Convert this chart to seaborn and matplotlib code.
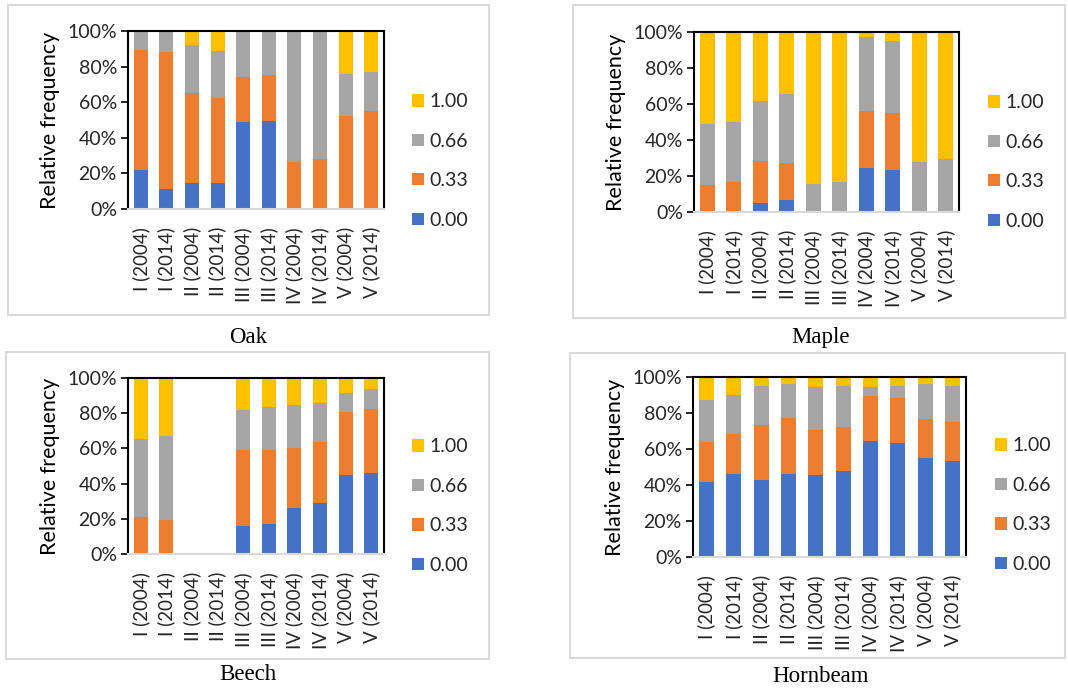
import matplotlib
matplotlib.use("Agg")
import matplotlib.pyplot as plt
from matplotlib.patches import Patch, Rectangle
from matplotlib.ticker import FixedLocator
import numpy as np
import pandas as pd
import seaborn as sns

# Plot sites and survey years
categories = ["I (2004)", "I (2014)", "II (2004)", "II (2014)", "III (2004)",
              "III (2014)", "IV (2004)", "IV (2014)", "V (2004)", "V (2014)"]
levels = ["0.00", "0.33", "0.66", "1.00"]

# Relative frequency (%) per level, for each species
oak_000 = [21.9, 11.2, 14.4, 14.4, 48.7, 49.4, 0, 0, 0, 0]
oak_033 = [67.4, 76.8, 50.6, 48.1, 25.5, 25.7, 26.4, 28.1, 52.4, 54.9]
oak_066 = [10.7, 12.0, 27.3, 26.3, 25.8, 24.9, 73.6, 71.9, 23.3, 21.9]
oak_100 = [0, 0, 7.7, 11.2, 0, 0, 0, 0, 24.3, 23.2]

maple_000 = [0, 0, 5.0, 6.8, 0, 0, 24.2, 23.6, 0, 0]
maple_033 = [14.9, 16.8, 23.4, 20.3, 0, 0, 32.1, 31.4, 0, 0]
maple_066 = [34.0, 33.4, 33.0, 38.6, 15.5, 16.8, 40.7, 40.2, 27.9, 29.7]
maple_100 = [51.1, 49.8, 38.6, 34.3, 84.5, 83.2, 3.0, 4.8, 72.1, 70.3]

beech_000 = [0, 0, 0, 0, 16.1, 17.3, 26.2, 28.7, 44.8, 46.1]
beech_033 = [21.1, 19.2, 0, 0, 43.1, 41.9, 34.3, 35.1, 35.8, 36.3]
beech_066 = [44.4, 47.6, 0, 0, 22.6, 24.5, 23.9, 21.8, 10.7, 11.3]
beech_100 = [34.5, 33.2, 0, 0, 18.2, 16.3, 15.6, 14.4, 8.7, 6.3]

hornbeam_000 = [41.5, 46.2, 42.6, 46.2, 45.6, 48.0, 64.6, 63.3, 55.1, 53.4]
hornbeam_033 = [22.4, 22.0, 30.8, 30.9, 25.0, 24.4, 24.8, 25.0, 21.4, 21.8]
hornbeam_066 = [23.1, 21.9, 21.8, 18.8, 24.0, 22.8, 5.2, 6.9, 19.4, 20.0]
hornbeam_100 = [13.0, 9.9, 4.8, 4.1, 5.4, 4.8, 5.4, 4.8, 4.1, 4.8]

palette = {"0.00": "#4472C4", "0.33": "#ED7D31", "0.66": "#A5A5A5", "1.00": "#FFC000"}

W, H = 1068, 691
sns.set_theme(style="white")
plt.rcParams["font.family"] = ["Lato", "DejaVu Sans"]
fig = plt.figure(figsize=(W / 100, H / 100), dpi=100)


def px_axes(x0, y0, x1, y1):
    return fig.add_axes([x0 / W, 1 - y1 / H, (x1 - x0) / W, (y1 - y0) / H])


panels = [
    # name, data, axes box, frame box, title centre, legend anchor
    ("Oak", [oak_000, oak_033, oak_066, oak_100],
     (128, 31, 384, 209), (8, 5, 489, 315), (248, 337), (412, 161)),
    ("Maple", [maple_000, maple_033, maple_066, maple_100],
     (694, 32, 959, 212), (573, 5, 1065, 318), (821, 337), (988, 162)),
    ("Beech", [beech_000, beech_033, beech_066, beech_100],
     (128, 378, 384, 554), (6, 352, 489, 659), (248, 675), (412, 506)),
    ("Hornbeam", [hornbeam_000, hornbeam_033, hornbeam_066, hornbeam_100],
     (693, 377, 966, 557), (570, 353, 1065, 658), (821, 676), (995, 505)),
]

for name, series, abox, fbox, tpos, lpos in panels:
    # light frame around each chart
    fx0, fy0, fx1, fy1 = fbox
    fig.patches.append(Rectangle((fx0 / W, 1 - fy1 / H), (fx1 - fx0) / W, (fy1 - fy0) / H,
                                 transform=fig.transFigure, fill=False,
                                 edgecolor="#D9D9D9", linewidth=1.5))
    ax = px_axes(*abox)

    df = pd.DataFrame({"site": categories})
    for lev, vals in zip(levels, series):
        df[lev] = vals
    cum = df[levels].cumsum(axis=1)

    # stacked bars: draw cumulative totals from the top level down
    for lev in reversed(levels):
        layer = pd.DataFrame({"site": categories, "value": cum[lev]})
        sns.barplot(data=layer, x="site", y="value", order=categories,
                    color=palette[lev], width=0.55, linewidth=0,
                    saturation=1, errorbar=None, ax=ax)

    ax.set_ylim(0, 100)
    ax.set_xlim(-0.5, len(categories) - 0.5)
    ax.yaxis.set_major_locator(FixedLocator([0, 20, 40, 60, 80, 100]))
    ax.set_yticklabels([f"{v}%" for v in range(0, 101, 20)], fontsize=14, color="#262626")
    ax.set_xticks(range(len(categories)))
    ax.set_xticklabels(categories, rotation=90, fontsize=13.5, color="#262626")
    ax.tick_params(axis="x", length=0, pad=13)
    ax.tick_params(axis="y", length=5, width=1.2, color="black", direction="out", pad=3, left=True)
    ax.set_xlabel("")
    ax.set_ylabel("Relative frequency", fontsize=15.5, color="black", labelpad=5)
    for side in ["left", "top", "right"]:
        ax.spines[side].set_color("black")
        ax.spines[side].set_linewidth(1.5)
        ax.spines[side].set_visible(True)
    ax.spines["bottom"].set_color("#D9D9D9")
    ax.spines["bottom"].set_linewidth(1.5)
    ax.spines["bottom"].set_visible(True)

    handles = [Patch(facecolor=palette[lev], edgecolor="none", label=lev)
               for lev in reversed(levels)]
    fig.legend(handles=handles, loc="center left",
               bbox_to_anchor=(lpos[0] / W, 1 - lpos[1] / H),
               frameon=False, fontsize=14, handlelength=0.6, handleheight=0.6,
               handletextpad=0.3, labelspacing=1.15, borderpad=0, borderaxespad=0)

    fig.text(tpos[0] / W, 1 - tpos[1] / H, name, ha="center", va="center",
             family="Liberation Serif", fontsize=16.5, color="black")

fig.savefig("out.png", dpi=100, facecolor="white")
